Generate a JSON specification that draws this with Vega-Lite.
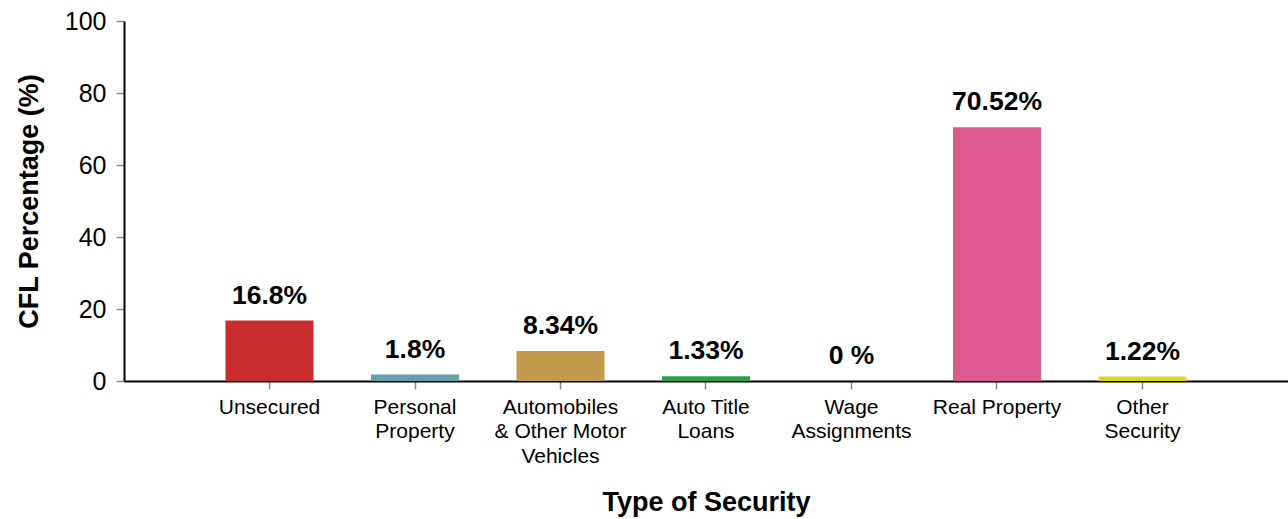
{
  "$schema": "https://vega.github.io/schema/vega-lite/v6.json",
  "width": 1164,
  "height": 360,
  "autosize": {"type": "none"},
  "padding": {"left": 124, "top": 21, "right": 0, "bottom": 138},
  "background": "white",
  "config": {
    "view": {"stroke": null},
    "font": "Liberation Sans"
  },
  "data": {
    "values": [
      {"type": "Unsecured", "pct": 16.8, "label": "16.8%"},
      {"type": "Personal Property", "pct": 1.8, "label": "1.8%"},
      {"type": "Automobiles & Other Motor Vehicles", "pct": 8.34, "label": "8.34%"},
      {"type": "Auto Title Loans", "pct": 1.33, "label": "1.33%"},
      {"type": "Wage Assignments", "pct": 0, "label": "0 %"},
      {"type": "Real Property", "pct": 70.52, "label": "70.52%"},
      {"type": "Other Security", "pct": 1.22, "label": "1.22%"}
    ]
  },
  "encoding": {
    "x": {
      "field": "type",
      "type": "nominal",
      "sort": null,
      "scale": {"paddingInner": 0.395, "paddingOuter": 0.6975},
      "axis": {
        "title": "Type of Security",
        "titleFont": "Liberation Sans",
        "titleFontSize": 27,
        "titleFontWeight": "bold",
        "titleColor": "#000000",
        "titlePadding": 23,
        "labelAngle": 0,
        "labelFontSize": 21,
        "labelColor": "#000000",
        "labelPadding": 7,
        "labelLineHeight": 24.5,
        "labelExpr": "datum.value == 'Personal Property' ? ['Personal', 'Property'] : datum.value == 'Automobiles & Other Motor Vehicles' ? ['Automobiles', '& Other Motor', 'Vehicles'] : datum.value == 'Auto Title Loans' ? ['Auto Title', 'Loans'] : datum.value == 'Wage Assignments' ? ['Wage', 'Assignments'] : datum.value == 'Other Security' ? ['Other', 'Security'] : datum.value",
        "tickColor": "#888888",
        "tickSize": 8,
        "tickWidth": 1.5,
        "domainColor": "#000000",
        "domainWidth": 2
      }
    },
    "y": {
      "field": "pct",
      "type": "quantitative",
      "scale": {"domain": [0, 100], "nice": false},
      "axis": {
        "title": "CFL Percentage (%)",
        "titleFont": "Liberation Sans",
        "titleFontSize": 27,
        "titleFontWeight": "bold",
        "titleColor": "#000000",
        "titlePadding": 21,
        "values": [0, 20, 40, 60, 80, 100],
        "grid": false,
        "labelFontSize": 25,
        "labelColor": "#000000",
        "labelPadding": 10,
        "tickColor": "#888888",
        "tickSize": 8,
        "tickWidth": 1.5,
        "domainColor": "#000000",
        "domainWidth": 2
      }
    }
  },
  "layer": [
    {
      "mark": {"type": "bar"},
      "encoding": {
        "color": {
          "field": "type",
          "type": "nominal",
          "legend": null,
          "scale": {
            "domain": ["Unsecured", "Personal Property", "Automobiles & Other Motor Vehicles", "Auto Title Loans", "Wage Assignments", "Real Property", "Other Security"],
            "range": ["#C92C2C", "#61A0AC", "#C39A4E", "#2EA04A", "#888888", "#DE5B8F", "#DDD22E"]
          }
        }
      }
    },
    {
      "mark": {"type": "text", "baseline": "alphabetic", "dy": -17, "fontSize": 26.5, "fontWeight": "bold", "color": "#000000", "font": "Liberation Sans"},
      "encoding": {
        "text": {"field": "label"}
      }
    }
  ]
}
